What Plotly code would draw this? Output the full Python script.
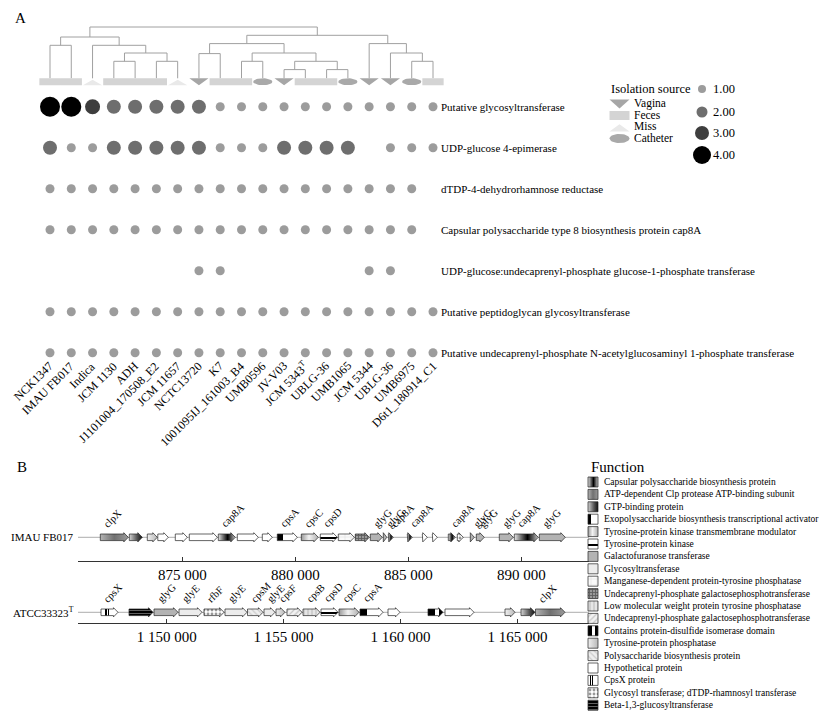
import math
import plotly.graph_objects as go

W, H = 839, 725
SERIF = "Liberation Serif, Times New Roman, serif"

# ---------------- Panel A data ----------------
strains = ["NCK1347", "IMAU FB017", "Indica", "JCM 1130", "ADH", "J1101004_170508_E2",
           "JCM 11657", "NCTC13720", "K7", "1001095IJ_161003_B4", "UMB0596", "JV-V03",
           "JCM 5343<sup>T</sup>", "UBLG-36", "UMB1065", "JCM 5344", "UBLG-36", "UMB6975",
           "D6t1_180914_C1"]
sources = ["Feces", "Feces", "Miss", "Feces", "Feces", "Feces", "Miss", "Vagina", "Feces",
           "Feces", "Catheter", "Vagina", "Feces", "Feces", "Catheter", "Vagina", "Vagina",
           "Catheter", "Feces"]
genes_a = ["Putative glycosyltransferase",
           "UDP-glucose 4-epimerase",
           "dTDP-4-dehydrorhamnose reductase",
           "Capsular polysaccharide type 8 biosynthesis protein cap8A",
           "UDP-glucose:undecaprenyl-phosphate glucose-1-phosphate transferase",
           "Putative peptidoglycan glycosyltransferase",
           "Putative undecaprenyl-phosphate N-acetylglucosaminyl 1-phosphate transferase"]
copy_number = [
    [4, 4, 3, 2, 2, 2, 2, 2, 1, 1, 1, 1, 1, 1, 1, 1, 1, 1, 1],
    [2, 1, 1, 2, 2, 2, 2, 2, 1, 1, 1, 2, 2, 2, 2, 0, 1, 1, 1],
    [1, 1, 1, 1, 1, 1, 1, 1, 1, 1, 1, 1, 1, 1, 1, 1, 1, 1, 0],
    [1, 1, 1, 1, 1, 1, 1, 1, 1, 1, 1, 1, 1, 1, 1, 1, 1, 1, 0],
    [0, 0, 0, 0, 0, 0, 0, 1, 1, 0, 0, 0, 0, 0, 0, 1, 1, 0, 0],
    [1, 1, 1, 1, 1, 1, 1, 1, 1, 1, 1, 1, 1, 1, 1, 1, 1, 1, 1],
    [1, 1, 1, 1, 1, 1, 1, 1, 1, 1, 1, 1, 1, 1, 1, 1, 1, 1, 1],
]
size_levels = [1, 2, 3, 4]
size_labels = ["1.00", "2.00", "3.00", "4.00"]
size_px = [9, 14, 15, 20]
legend_size_px = [8, 11, 14, 18]
size_colors = ["#9c9c9c", "#6e6e6e", "#3e3e3e", "#000000"]

# dendrogram merges: (left node, right node, height); leaves are 0..18
merges = [(0, 1, 33), (3, 4, 17), (5, 6, 17), (20, 21, 25.3), (2, 22, 33), (19, 23, 41.3),
          (7, 8, 24.7), (9, 10, 17), (11, 12, 8.7), (13, 14, 8.7), (27, 28, 17), (26, 29, 25.3),
          (25, 30, 34.7), (17, 18, 17), (16, 32, 25.3), (15, 33, 34.7), (31, 34, 43), (24, 35, 51.3)]

source_names = ["Vagina", "Feces", "Miss", "Catheter"]
source_colors = ["#a6a6a6", "#d4d4d4", "#e9e9e9", "#a9a9a9"]

# ---------------- Panel B data ----------------
func_names = ["Capsular polysaccharide biosynthesis protein",
              "ATP-dependent Clp protease ATP-binding subunit",
              "GTP-binding protein",
              "Exopolysaccharide biosynthesis transcriptional activator",
              "Tyrosine-protein kinase transmembrane modulator",
              "Tyrosine-protein kinase",
              "Galactofuranose transferase",
              "Glycosyltransferase",
              "Manganese-dependent protein-tyrosine phosphatase",
              "Undecaprenyl-phosphate galactosephosphotransferase",
              "Low molecular weight protein tyrosine phosphatase",
              "Undecaprenyl-phosphate galactosephosphotransferase",
              "Contains protein-disulfide isomerase domain",
              "Tyrosine-protein phosphatase",
              "Polysaccharide biosynthesis protein",
              "Hypothetical protein",
              "CpsX protein",
              "Glycosyl transferase; dTDP-rhamnosyl transferase",
              "Beta-1,3-glucosyltransferase"]
func_fill = ["#d0d0d0", "#8c8c8c", "#888888", "#ffffff", "#bdbdbd", "#ffffff", "#b3b3b3",
             "#ececec", "#fafafa", "#888888", "#e2e2e2", "#f2f2f2", "#000000", "#d8d8d8",
             "#e8e8e8", "#ffffff", "#ffffff", "#ffffff", "#000000"]
func_grad_type = ["horizontal", "horizontal", "horizontal", "horizontal", "horizontal", "vertical",
                  None, None, None, None, None, None, "horizontal", "horizontal", None, None,
                  "horizontal", None, None]
func_grad = [
    [[0, "#e8e8e8"], [0.55, "#000000"], [1, "#c4c4c4"]],
    [[0, "#b4b4b4"], [0.5, "#707070"], [1, "#9a9a9a"]],
    [[0, "#d4d4d4"], [0.6, "#555555"], [1, "#111111"]],
    [[0, "#000000"], [0.3, "#000000"], [0.3, "#ffffff"], [1, "#ffffff"]],
    [[0, "#9a9a9a"], [0.45, "#f2f2f2"], [1, "#b0b0b0"]],
    [[0, "#ffffff"], [0.3, "#ffffff"], [0.3, "#000000"], [0.55, "#000000"], [0.55, "#ffffff"], [1, "#ffffff"]],
    None, None, None, None, None, None,
    [[0, "#000000"], [0.45, "#000000"], [0.45, "#ffffff"], [0.75, "#ffffff"], [0.75, "#000000"], [1, "#000000"]],
    [[0, "#f0f0f0"], [1, "#b8b8b8"]],
    None, None,
    [[0, "#ffffff"], [0.25, "#ffffff"], [0.25, "#000000"], [0.33, "#000000"], [0.33, "#ffffff"],
     [0.4, "#ffffff"], [0.4, "#000000"], [0.48, "#000000"], [0.48, "#ffffff"], [1, "#ffffff"]],
    None, None]
func_pattern = [None, None, None, None, None, None, None, None,
                dict(shape="+", fgcolor="#b0b0b0", bgcolor="#fafafa", size=6, solidity=0.15),
                dict(shape="+", fgcolor="#222222", bgcolor="#999999", size=3, solidity=0.5),
                dict(shape="|", fgcolor="#999999", bgcolor="#e6e6e6", size=4, solidity=0.3),
                dict(shape="/", fgcolor="#999999", bgcolor="#f2f2f2", size=4, solidity=0.3),
                None, None,
                dict(shape="\\", fgcolor="#aaaaaa", bgcolor="#eeeeee", size=4, solidity=0.3),
                None, None,
                dict(shape=".", fgcolor="#333333", bgcolor="#ffffff", size=4, solidity=0.4),
                dict(shape="-", fgcolor="#ffffff", bgcolor="#000000", size=3, solidity=0.25)]

# Track 1: IMAU FB017
track1_name = "IMAU FB017"
starts1 = [871372, 872655, 873451, 873916, 874690, 875310, 876593, 877434, 878540, 879204,
           880266, 881107, 881903, 882655, 883319, 883894, 884116, 884956, 885620, 886063,
           886771, 887169, 887744, 888010, 889027, 889691, 890798]
ends1 = [872610, 873230, 873894, 874380, 875221, 876549, 877345, 878363, 878983, 880089,
         881018, 881859, 882611, 883275, 883850, 884049, 884337, 885178, 885841, 886284,
         887080, 887434, 887921, 888364, 889646, 890753, 891948]
funcs1 = [1, 2, 13, 15, 15, 15, 0, 15, 15, 3, 4, 5, 8, 9, 6, 6, 0, 0, 15, 15, 0, 17, 6, 6, 6, 0, 6]
names1 = ["clpX", "", "", "", "", "", "cap8A", "", "", "cpsA", "cpsC", "cpsD", "", "", "glyG",
          "glyG", "cap8A", "cap8A", "", "", "cap8A", "", "glyG", "glyG", "glyG", "cap8A", "glyG"]
ticks1 = [875000, 880000, 885000, 890000]

# Track 2: ATCC33323T
track2_name = "ATCC33323<sup>T</sup>"
starts2 = [1147190, 1148388, 1149457, 1150526, 1151595, 1152493, 1153456, 1154162, 1154675,
           1155145, 1155830, 1156600, 1157370, 1158268, 1159465, 1161176, 1161903, 1164469,
           1165153, 1165773]
ends2 = [1147917, 1149414, 1150483, 1151510, 1152451, 1153434, 1154119, 1154632, 1155060,
         1155787, 1156557, 1157327, 1158225, 1159252, 1159978, 1161817, 1163143, 1164897,
         1165752, 1167035]
funcs2 = [16, 18, 6, 7, 17, 7, 14, 7, 13, 11, 10, 5, 4, 3, 15, 12, 15, 13, 2, 1]
names2 = ["cpsX", "", "glyG", "glyE", "rfbF", "glyE", "cpsM", "glyE", "cpsF", "", "cpsB", "cpsD",
          "cpsC", "cpsA", "", "", "", "", "", "clpX"]
ticks2 = [1150000, 1155000, 1160000, 1165000]


# ---------------- helpers ----------------
def lin(v1, p1, v2, p2):
    k = (v2 - v1) / (p2 - p1)
    return lambda p: v1 + (p - p1) * k


fig = go.Figure()
annotations = []


def ann(text, x, y, xref, yref, size, xanchor="left", yanchor="middle", angle=0):
    annotations.append(dict(text=text, x=x, y=y, xref=xref, yref=yref, showarrow=False,
                            xanchor=xanchor, yanchor=yanchor, textangle=angle,
                            font=dict(family=SERIF, size=size, color="#000")))


def glyph(src, cx, top, w, dy):
    if src == "Vagina":
        pts = [(-w / 2, 0), (w / 2, 0), (0, 1)]
    elif src == "Miss":
        pts = [(-w / 2, 1), (w / 2, 1), (0, 0.2)]
    elif src == "Feces":
        pts = [(-w / 2, 0), (w / 2, 0), (w / 2, 1), (-w / 2, 1)]
    else:
        pts = [(w / 2 * math.cos(t * math.pi / 18), 0.5 + 0.5 * math.sin(t * math.pi / 18))
               for t in range(36)]
    xs = [cx + p[0] for p in pts] + [cx + pts[0][0]]
    ys = [top + p[1] * dy for p in pts] + [top + pts[0][1] * dy]
    return xs, ys


# ---------------- Panel A ----------------
n = len(strains)
fx = lin(1, 50, n, 433)
fy = lin(1, 106.7, len(genes_a), 352.7)
fh = lin(0, 78.3, 51.3, 27)

# dendrogram
pos = [float(i + 1) for i in range(n)]
ht = [0.0] * n
dx, dy_ = [], []
for l, r, hh in merges:
    dx += [pos[l], pos[l], pos[r], pos[r], None]
    dy_ += [ht[l], hh, hh, ht[r], None]
    pos.append((pos[l] + pos[r]) / 2)
    ht.append(hh)
fig.add_trace(go.Scatter(x=dx, y=dy_, mode="lines", line=dict(color="#a0a0a0", width=1),
                         xaxis="x", yaxis="y2", hoverinfo="skip", showlegend=False))

# isolation source glyphs under the leaves
for sname, scol in zip(source_names, source_colors):
    gx, gy = [], []
    for i, s in enumerate(sources):
        if s == sname:
            w = 1.0 if s == "Feces" else 0.9
            xs, ys = glyph(s, i + 1, 0, w, -7)
            gx += xs + [None]
            gy += ys + [None]
    if gx:
        fig.add_trace(go.Scatter(x=gx, y=gy, mode="lines", fill="toself", fillcolor=scol,
                                 line=dict(width=0, color=scol), xaxis="x", yaxis="y2",
                                 hoverinfo="skip", showlegend=False))

# dot matrix
mx, my, ms, mc = [], [], [], []
for r, row in enumerate(copy_number):
    for c, v in enumerate(row):
        if v > 0:
            k = size_levels.index(v)
            mx.append(c + 1)
            my.append(r + 1)
            ms.append(size_px[k])
            mc.append(size_colors[k])
fig.add_trace(go.Scatter(x=mx, y=my, mode="markers",
                         marker=dict(size=ms, color=mc, opacity=1, line=dict(width=0)),
                         xaxis="x", yaxis="y", hoverinfo="skip", showlegend=False))

for r, g in enumerate(genes_a):
    ann(g, n + 0.3, r + 1, "x", "y", 11)
for i, s in enumerate(strains):
    ann(s, i + 1 + 0.42, len(genes_a) + 0.09, "x", "y", 12, "right", "top", -45)

# isolation source legend (pixel layout axis)
ann("Isolation source", 609, 89, "x5", "y5", 12.5)
leg_src_y = [99.5, 111, 122.5, 134]
for sname, scol, yy in zip(source_names, source_colors, leg_src_y):
    xs, ys = glyph(sname, 619.5, yy, 20, 9)
    fig.add_trace(go.Scatter(x=xs, y=ys, mode="lines", fill="toself", fillcolor=scol,
                             line=dict(width=0, color=scol), xaxis="x5", yaxis="y5",
                             hoverinfo="skip", showlegend=False))
    ann(sname, 632, yy + 3.5, "x5", "y5", 11.5)

leg_size_y = [89, 112, 133, 155]
fig.add_trace(go.Scatter(x=[702] * 4, y=leg_size_y, mode="markers",
                         marker=dict(size=legend_size_px, color=size_colors, opacity=1,
                                     line=dict(width=0)),
                         xaxis="x5", yaxis="y5", hoverinfo="skip", showlegend=False))
for lab, yy in zip(size_labels, leg_size_y):
    ann(lab, 711, yy, "x5", "y5", 12.5)

ann("A", 13, 18, "x5", "y5", 15)
ann("B", 15, 467, "x5", "y5", 15)


# ---------------- Panel B ----------------
def arrow(s, e, head, h=3.3, hh=4.6):
    b = e - min(head, e - s)
    if b <= s:
        return [s, e, s, s], [hh, 0, -hh, hh]
    return [s, b, b, e, b, b, s, s], [h, h, hh, 0, -hh, -h, -h, h]


def gene_trace(xs, ys, f, xa, ya):
    kw = dict(x=xs, y=ys, mode="lines", fill="toself", fillcolor=func_fill[f],
              line=dict(color="#222222", width=0.7), xaxis=xa, yaxis=ya,
              hoverinfo="skip", showlegend=False)
    if func_grad[f] is not None:
        kw["fillgradient"] = dict(type=func_grad_type[f], colorscale=func_grad[f])
    if func_pattern[f] is not None:
        kw["fillpattern"] = func_pattern[f]
    return go.Scatter(**kw)


tracks = [
    dict(name=track1_name, starts=starts1, ends=ends1, funcs=funcs1, names=names1, ticks=ticks1,
         ref_bp=875000, ref_px=182.3, bpp=44.25, center=537.3, axis=560.7, ax="x3", ay="y3"),
    dict(name=track2_name, starts=starts2, ends=ends2, funcs=funcs2, names=names2, ticks=ticks2,
         ref_bp=1150000, ref_px=166.7, bpp=42.77, center=612.3, axis=623.3, ax="x4", ay="y4"),
]
left_px, right_px = 78, 589
layout_axes = {}
for t in tracks:
    bp = lambda p, t=t: t["ref_bp"] + (p - t["ref_px"]) * t["bpp"]
    xr = [bp(left_px), bp(right_px)]
    # backbone
    fig.add_trace(go.Scatter(x=xr, y=[0, 0], mode="lines", line=dict(color="#bdbdbd", width=1.3),
                             xaxis=t["ax"], yaxis=t["ay"], hoverinfo="skip", showlegend=False))
    head = 4.5 * t["bpp"]
    for s, e, f, nm in zip(t["starts"], t["ends"], t["funcs"], t["names"]):
        xs, ys = arrow(s, e, head)
        fig.add_trace(gene_trace(xs, ys, f, t["ax"], t["ay"]))
        if nm:
            ann(nm, s - 2 * t["bpp"], 5, t["ax"], t["ay"], 10.5, "left", "bottom", -45)
    ann(t["name"], 76, t["center"], "x5", "y5", 11, "right", "middle")
    layout_axes["xaxis" + t["ax"][1:]] = dict(
        domain=[left_px / W, right_px / W], range=xr, anchor="free",
        position=(H - t["axis"]) / H, showgrid=False, zeroline=False, showline=True,
        linecolor="#333333", linewidth=1, ticks="inside", ticklen=4, tickcolor="#333333",
        tickvals=t["ticks"], tickformat=",d",
        tickfont=dict(family=SERIF, size=15, color="#000"))
    layout_axes["yaxis" + t["ay"][1:]] = dict(
        domain=[0, 1], range=[t["center"] - H, t["center"]], anchor=t["ax"], visible=False)

# Function legend
ann("Function", 589, 467, "x5", "y5", 15)
for i, fname in enumerate(func_names):
    yc = 482 + 12.4 * i
    xs = [588, 598, 598, 588, 588]
    ys = [yc - 5, yc - 5, yc + 5, yc + 5, yc - 5]
    fig.add_trace(gene_trace(xs, ys, i, "x5", "y5"))
    ann(fname, 601.5, yc, "x5", "y5", 9.5)

fig.update_layout(
    width=W, height=H, margin=dict(l=0, r=0, t=0, b=0), autosize=False,
    paper_bgcolor="white", plot_bgcolor="rgba(0,0,0,0)", separators=". ",
    showlegend=False, annotations=annotations,
    xaxis=dict(domain=[0, 1], range=[fx(0), fx(W)], visible=False, fixedrange=True),
    yaxis=dict(domain=[0, 1], range=[fy(H), fy(0)], visible=False, anchor="x"),
    yaxis2=dict(domain=[0, 1], range=[fh(H), fh(0)], visible=False, anchor="x"),
    xaxis5=dict(domain=[0, 1], range=[0, W], visible=False, anchor="y5"),
    yaxis5=dict(domain=[0, 1], range=[H, 0], visible=False, anchor="x5"),
    **layout_axes,
)
fig.write_html("out.html", config={"displayModeBar": False},
               post_script="document.body.style.margin='0';document.body.style.overflow='hidden';")
